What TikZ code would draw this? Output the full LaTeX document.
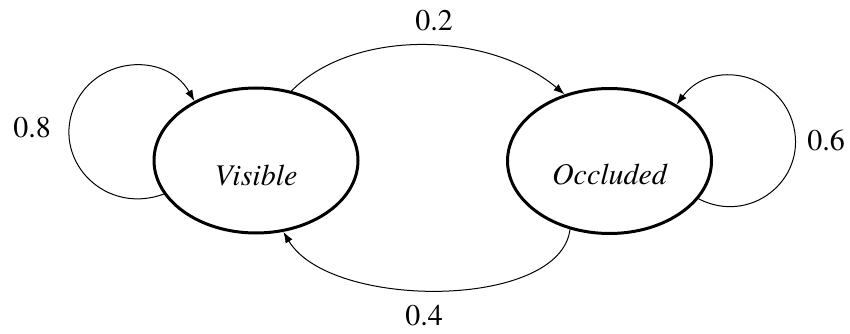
\documentclass[tikz,border=0pt]{standalone}
\usepackage{fontspec}
\setmainfont{TeX Gyre Termes}
\usetikzlibrary{arrows.meta,shapes.geometric}
\begin{document}
\begin{tikzpicture}[x=1pt,y=1pt,
  state/.style={draw,ellipse,line width=3pt,minimum width=204pt,minimum height=145pt,inner sep=0pt},
  statetext/.style={anchor=base,font=\fontsize{30}{36}\selectfont\itshape,inner sep=0pt},
  prob/.style={font=\fontsize{30}{36}\selectfont,inner sep=0pt},
  arr/.style={line width=1pt,-{Latex[length=11pt,width=8pt]}}]
\useasboundingbox (0,0) rectangle (850,-334);
\node[state] (vis) at (256,-160.5) {};
\node[state] (occ) at (609.5,-161) {};
\node[statetext] (visT) at ([yshift=-24.5pt]vis.center) {Visible};
\node[statetext] (occT) at ([yshift=-23pt]occ.center) {Occluded};
% labels
\node[prob] (p2) at (434,-21) {0.2};
\node[prob] (p4) at (424,-316) {0.4};
\node[prob] (p8) at (32,-128) {0.8};
\node[prob] (p6) at (826,-140) {0.6};
% transitions
\draw[arr] (vis.63) .. controls (354,-28) and (489,-31) .. (occ.124);
\draw[arr] (occ.240) .. controls (560,-310) and (330,-310) .. (vis.291);
% self loops
\coordinate (vm) at (73,-109.4);
\draw[arr] (vis.200) .. controls (106.1,-215.3) and (53.6,-162.6) .. (vm)
  .. controls (92.4,-56.2) and (165.6,-50.5) .. (vis.136);
\coordinate (om) at (793.7,-126.5);
\draw[arr] (occ.-23) .. controls (749.7,-225.3) and (806.5,-180.8) .. (om)
  .. controls (780.9,-72.2) and (711.2,-58.1) .. (occ.40);
\end{tikzpicture}
\end{document}
